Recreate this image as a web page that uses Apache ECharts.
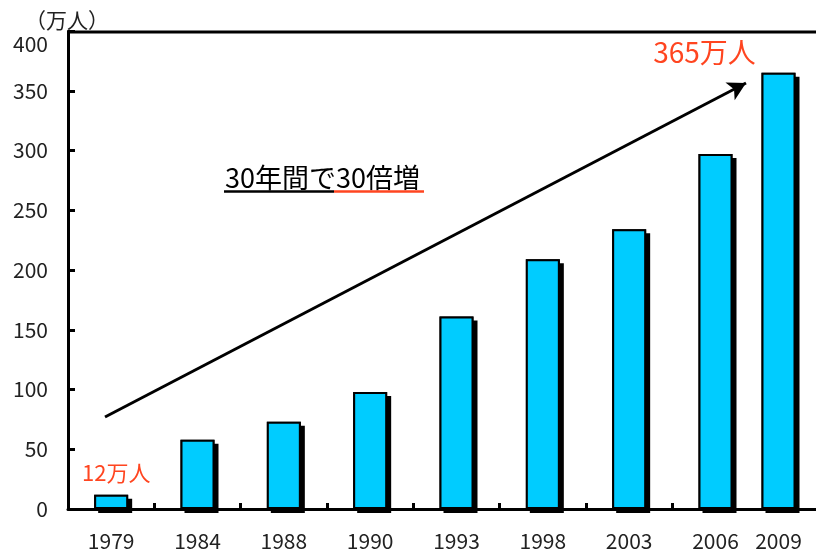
<!DOCTYPE html>
<html>
<head>
<meta charset="utf-8">
<script src="https://cdn.jsdelivr.net/npm/echarts@6/dist/echarts.min.js"></script>
<style>
html,body{margin:0;padding:0;background:#fff;}
#chart{width:816px;height:556px;}
</style>
</head>
<body>
<div id="chart"></div>
<script>
const categories = ['1979','1984','1988','1990','1993','1998','2003','2006','2009'];
const visitors = [12, 58, 73, 98, 161, 209, 234, 297, 365];
const unitLabel = '（万人）';
const unitSuffix = '万人';
const headlineA = '30年間で';
const headlineB = '30倍増';
const yMax = 400;
const yStep = 50;

const FONT = '"Noto Sans CJK JP", "Noto Sans", sans-serif';
const RED = '#ff4520';
const TXT = '#222';
const lastIdx = categories.length - 1;

const frontStyle = { color: '#00CCFF', borderColor: '#000', borderWidth: 2 };
const backStyle = {
  color: '#000', borderWidth: 0,
  shadowColor: '#000', shadowBlur: 0, shadowOffsetX: 4, shadowOffsetY: 4
};

const mainValues = visitors.map((v, i) => (i === lastIdx ? '-' : v));
const mainData = mainValues.map((v, i) => {
  if (i === 0) {
    return {
      value: v,
      label: {
        show: true, position: 'top', distance: 11, offset: [5, 0],
        formatter: p => p.value + unitSuffix,
        color: RED, fontSize: 22, fontFamily: FONT
      }
    };
  }
  return v;
});
const lastValues = [visitors[lastIdx]];
const lastData = [{
  value: visitors[lastIdx],
  label: {
    show: true, position: 'top', distance: 6, offset: [-74, 0],
    formatter: p => p.value + unitSuffix,
    color: RED, fontSize: 28, fontFamily: FONT
  }
}];

const axisLabelStyle = { fontSize: 21, color: TXT, fontFamily: FONT };

const chart = echarts.init(document.getElementById('chart'), null, { renderer: 'canvas' });
chart.setOption({
  animation: false,
  backgroundColor: '#fff',
  grid: [
    { left: 68, top: 31, width: 777, bottom: 47, containLabel: false, outerBoundsMode: 'none' },
    { left: 759, width: 39, top: 31, bottom: 47, containLabel: false, outerBoundsMode: 'none' }
  ],
  xAxis: [
    {
      type: 'category', gridIndex: 0, data: categories,
      axisLine: { show: true, lineStyle: { color: '#000', width: 3 } },
      axisTick: { show: true, inside: true, length: 6, lineStyle: { color: '#000', width: 3 } },
      axisLabel: Object.assign({ margin: 22, interval: (i) => i < lastIdx }, axisLabelStyle),
      splitLine: { show: false }
    },
    {
      type: 'category', gridIndex: 1, data: [categories[lastIdx]],
      axisLine: { show: false }, axisTick: { show: false },
      axisLabel: Object.assign({ margin: 22 }, axisLabelStyle),
      splitLine: { show: false }
    }
  ],
  yAxis: [
    {
      type: 'value', gridIndex: 0, min: 0, max: yMax, interval: yStep,
      axisLine: { show: true, lineStyle: { color: '#000', width: 3 } },
      axisTick: { show: true, inside: true, length: 7, lineStyle: { color: '#000', width: 3 } },
      axisLabel: Object.assign({
        margin: 20,
        formatter: v => v === yMax ? '{t|' + v + '}' : String(v),
        rich: { t: { fontSize: 21, color: TXT, fontFamily: FONT, padding: [26, 0, 0, 0] } }
      }, axisLabelStyle),
      splitLine: { show: false }
    },
    {
      type: 'value', gridIndex: 1, min: 0, max: yMax, interval: yStep, show: false,
      splitLine: { show: false }
    }
  ],
  series: [
    {
      type: 'bar', xAxisIndex: 0, yAxisIndex: 0, barWidth: 34, barGap: '-100%',
      data: mainValues, itemStyle: backStyle, silent: true
    },
    {
      type: 'bar', xAxisIndex: 0, yAxisIndex: 0, barWidth: 34, barGap: '-100%',
      data: mainData, itemStyle: frontStyle,
      markLine: {
        silent: true, animation: false,
        symbol: ['none', 'arrow'], symbolSize: [15, 18],
        lineStyle: { color: '#000', width: 3, type: 'solid' },
        label: { show: false },
        data: [[{ x: 105, y: 417 }, { x: 746, y: 83 }]]
      }
    },
    {
      type: 'bar', xAxisIndex: 1, yAxisIndex: 1, barWidth: 34, barGap: '-100%',
      data: lastValues, itemStyle: backStyle, silent: true
    },
    {
      type: 'bar', xAxisIndex: 1, yAxisIndex: 1, barWidth: 34, barGap: '-100%',
      data: lastData, itemStyle: frontStyle
    }
  ],
  graphic: [
    { type: 'line', shape: { x1: 68, y1: 32, x2: 816, y2: 32 }, style: { stroke: '#000', lineWidth: 3 }, z: 10 },
    { type: 'text', x: 25, y: 20, style: { text: unitLabel, fontSize: 21, fill: TXT, fontFamily: FONT, verticalAlign: 'middle' } },
    { type: 'text', x: 225, y: 178, style: {
        text: '{a|' + headlineA + '}{b|' + headlineB + '}',
        verticalAlign: 'middle',
        rich: {
          a: { fontSize: 27, color: TXT, fontFamily: FONT },
          b: { fontSize: 27, color: RED, fontFamily: FONT }
        }
      } },
    { type: 'line', shape: { x1: 224, y1: 191.5, x2: 334, y2: 191.5 }, style: { stroke: '#000', lineWidth: 2.5 } },
    { type: 'line', shape: { x1: 334, y1: 191.5, x2: 424, y2: 191.5 }, style: { stroke: RED, lineWidth: 2.5 } }
  ]
});
</script>
</body>
</html>
